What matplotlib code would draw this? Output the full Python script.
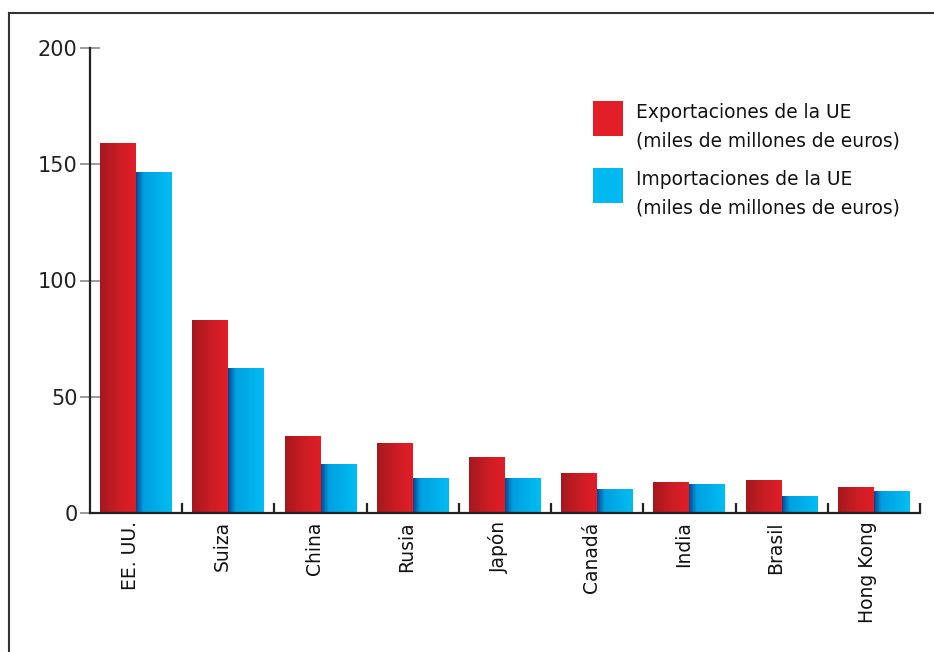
import numpy as np
import matplotlib
matplotlib.use('Agg')
import matplotlib.pyplot as plt
import matplotlib.transforms as mtransforms
from matplotlib.colors import LinearSegmentedColormap
from matplotlib.patches import Rectangle
from matplotlib.lines import Line2D

# EU trade with main partners
countries = ['EE. UU.', 'Suiza', 'China', 'Rusia', 'Japón', 'Canadá', 'India', 'Brasil', 'Hong Kong']
exports = [159, 83, 33, 30, 24, 17, 13.3, 14.2, 11.2]
imports = [146.5, 62.5, 21, 15.2, 15.2, 10.3, 12.3, 7.3, 9.5]
legend_labels = ['Exportaciones de la UE', 'Importaciones de la UE']
legend_units = '(miles de millones de euros)'
y_ticks = [0, 50, 100, 150, 200]

plt.rcParams['font.family'] = ['DejaVu Sans']

W, H = 934, 652
fig = plt.figure(figsize=(W / 100, H / 100), dpi=100)
ax = fig.add_axes([90 / W, 1 - 513 / H, 830 / W, 465 / H])

red_cmap = LinearSegmentedColormap.from_list('red', ['#a5181e', '#c81d24', '#e21e27'])
blue_cmap = LinearSegmentedColormap.from_list(
    'blue', [(0, '#0a4590'), (0.2, '#009fe0'), (1, '#00bdf2')])

x = np.arange(len(countries))
w = 0.39
bars_exp = ax.bar(x - w / 2, exports, w, color='none', edgecolor='none')
bars_imp = ax.bar(x + w / 2, imports, w, color='none', edgecolor='none')

# fill each bar with a horizontal gradient
grad = np.linspace(0, 1, 64).reshape(1, -1)
for bars, cmap in [(bars_exp, red_cmap), (bars_imp, blue_cmap)]:
    for b in bars:
        x0, y0 = b.get_x(), b.get_y()
        im = ax.imshow(grad, cmap=cmap, aspect='auto', interpolation='bilinear',
                       extent=(x0, x0 + b.get_width(), y0, y0 + b.get_height()),
                       zorder=2)
        im.set_clip_path(b)

ax.set_xlim(-0.5, len(countries) - 0.5)
ax.set_ylim(0, 200)

# axes styling
for side in ['top', 'right']:
    ax.spines[side].set_visible(False)
for side in ['left', 'bottom']:
    ax.spines[side].set_color('#222222')
    ax.spines[side].set_linewidth(1.6)

ax.set_yticks(y_ticks)
ax.set_yticklabels([str(v) for v in y_ticks], fontsize=15, color='#222222')
ax.tick_params(axis='y', direction='inout', length=14, width=1.2, color='#8a8a8a', pad=2)

ax.set_xticks(x)
ax.set_xticklabels(countries, rotation=90, fontsize=13.5, color='#111111', va='top')
ax.tick_params(axis='x', length=0, pad=6)
shift = mtransforms.ScaledTranslation(-6 / 100, 0, fig.dpi_scale_trans)
for lab in ax.get_xticklabels():
    lab.set_transform(lab.get_transform() + shift)
ax.set_xticks(np.arange(0.5, len(countries), 1), minor=True)
ax.tick_params(axis='x', which='minor', direction='in', length=7, width=1.6, color='#222222')

# legend
leg_colors = ['#e31e26', '#00b9f0']
for i, (lab, col) in enumerate(zip(legend_labels, leg_colors)):
    top = 101 + i * 67
    fig.add_artist(Rectangle((593 / W, 1 - (top + 35) / H), 30 / W, 35 / H,
                             facecolor=col, edgecolor='none', transform=fig.transFigure))
    fig.text(636 / W, 1 - (top + 11) / H, lab, fontsize=13.4, va='center', ha='left', color='#111111')
    fig.text(636 / W, 1 - (top + 40) / H, legend_units, fontsize=13.4, va='center', ha='left', color='#111111')

# outer frame (top and left edges)
fig.add_artist(Line2D([9 / W, 9 / W], [0, 1 - 13 / H], color='#333333', lw=1.5, transform=fig.transFigure))
fig.add_artist(Line2D([9 / W, 1], [1 - 13 / H, 1 - 13 / H], color='#333333', lw=1.5, transform=fig.transFigure))

fig.savefig('out.png', dpi=100)
